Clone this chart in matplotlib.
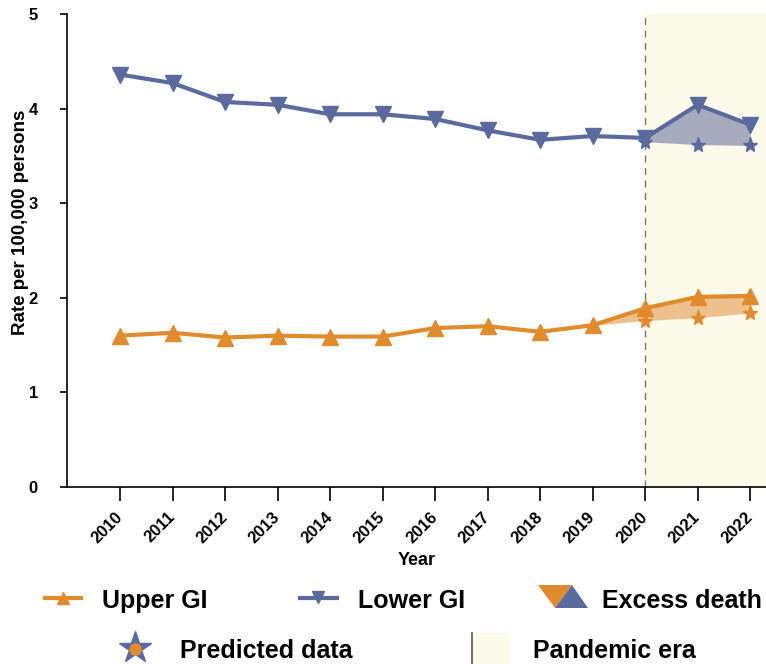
import matplotlib.pyplot as plt
from matplotlib.patches import Polygon, Rectangle

plt.rcParams['font.family'] = ['Liberation Sans', 'DejaVu Sans']
plt.rcParams['font.weight'] = 'bold'

# GI mortality rates per 100,000 persons
years = list(range(2010, 2023))
upper_gi = [1.60, 1.63, 1.58, 1.60, 1.59, 1.59, 1.68, 1.70, 1.64, 1.71, 1.89, 2.01, 2.02]
lower_gi = [4.36, 4.27, 4.07, 4.04, 3.94, 3.94, 3.89, 3.77, 3.67, 3.71, 3.69, 4.04, 3.83]

# predicted (no-pandemic) values; upper band starts from the 2019 observation
upper_pred_years = [2019, 2020, 2021, 2022]
upper_pred = [1.71, 1.76, 1.79, 1.84]
lower_pred_years = [2020, 2021, 2022]
lower_pred = [3.65, 3.62, 3.61]

pandemic_start = 2020

ORANGE = '#E08B2D'
BLUE = '#5B6A9E'
ORANGE_FILL = '#EDC18E'
BLUE_FILL = '#A8ABBE'
PANDEMIC = '#FCFAEA'

W, H = 766, 664
fig = plt.figure(figsize=(W / 100, H / 100), dpi=100)
ax = fig.add_axes([67 / W, 1 - 487 / H, (W - 67) / W, (487 - 14) / H])

ax.axvspan(pandemic_start, 2030, color=PANDEMIC, zorder=0, lw=0)
ax.axvline(pandemic_start, color='#777777', lw=1, ls=(0, (5, 4)), zorder=1)

# excess death bands between observed and predicted
obs_upper = upper_gi[years.index(upper_pred_years[0]):]
obs_lower = lower_gi[years.index(lower_pred_years[0]):]
ax.fill_between(upper_pred_years, upper_pred, obs_upper, color=ORANGE_FILL, lw=0, zorder=2)
ax.fill_between(lower_pred_years, lower_pred, obs_lower, color=BLUE_FILL, lw=0, zorder=2)

ax.plot(years, upper_gi, color=ORANGE, lw=3, marker='^', ms=11, zorder=4)
ax.plot(years, lower_gi, color=BLUE, lw=3, marker='v', ms=11, zorder=4)

ax.plot(upper_pred_years[1:], upper_pred[1:], ls='none', marker='*', ms=11,
        color=ORANGE, zorder=5)
ax.plot(lower_pred_years, lower_pred, ls='none', marker='*', ms=11,
        color=BLUE, zorder=5)

ax.set_xlim(2008.99, 2022.3)
ax.set_ylim(0, 5)
ax.set_xticks(years)
ax.set_xticklabels([str(y) for y in years], rotation=45, ha='right', va='center',
                   rotation_mode='anchor', fontsize=12, fontweight='bold')
ax.set_yticks(range(6))
ax.tick_params(axis='x', length=10, width=1.2, pad=10)
ax.tick_params(axis='y', length=5, width=1.2, pad=16, labelsize=12)
for s in ('top', 'right'):
    ax.spines[s].set_visible(False)
for s in ('left', 'bottom'):
    ax.spines[s].set_linewidth(1.2)

ax.set_xlabel('Year', fontsize=13, fontweight='bold', labelpad=4)
ax.set_ylabel('Rate per 100,000 persons', fontsize=13.5, fontweight='bold')
ax.yaxis.set_label_coords(-0.055, 0.56)

# legend drawn in pixel coordinates below the plot
leg = fig.add_axes([0, 0, 1, 95 / H])
leg.set_xlim(0, W)
leg.set_ylim(H, H - 95)
leg.axis('off')

leg.plot([45, 81], [598, 598], color=ORANGE, lw=3)
leg.plot([63], [598], marker='^', ms=8, color=ORANGE)
leg.text(102, 608, 'Upper GI', fontsize=18, fontweight='bold', va='baseline')

leg.plot([300, 337], [598, 598], color=BLUE, lw=3)
leg.plot([318], [597], marker='v', ms=8, color=BLUE)
leg.text(358, 608, 'Lower GI', fontsize=18, fontweight='bold', va='baseline')

leg.add_patch(Polygon([(538, 585), (572, 585), (555, 608)], closed=True,
                      color=ORANGE, lw=0))
leg.add_patch(Polygon([(572, 585), (555, 608), (588, 608)], closed=True,
                      color=BLUE, lw=0))
leg.text(602, 608, 'Excess death', fontsize=18, fontweight='bold', va='baseline')

leg.plot([135], [648], marker='*', ms=24, color=BLUE, ls='none')
leg.plot([135], [649], marker='o', ms=8, color=ORANGE, ls='none')
leg.text(180, 658, 'Predicted data', fontsize=18, fontweight='bold', va='baseline')

leg.add_patch(Rectangle((472, 633), 38, 31, color=PANDEMIC, lw=0))
leg.plot([472, 472], [633, 664], color='#555555', lw=1.2)
leg.text(533, 658, 'Pandemic era', fontsize=18, fontweight='bold', va='baseline')

fig.savefig('out.png', dpi=100)
